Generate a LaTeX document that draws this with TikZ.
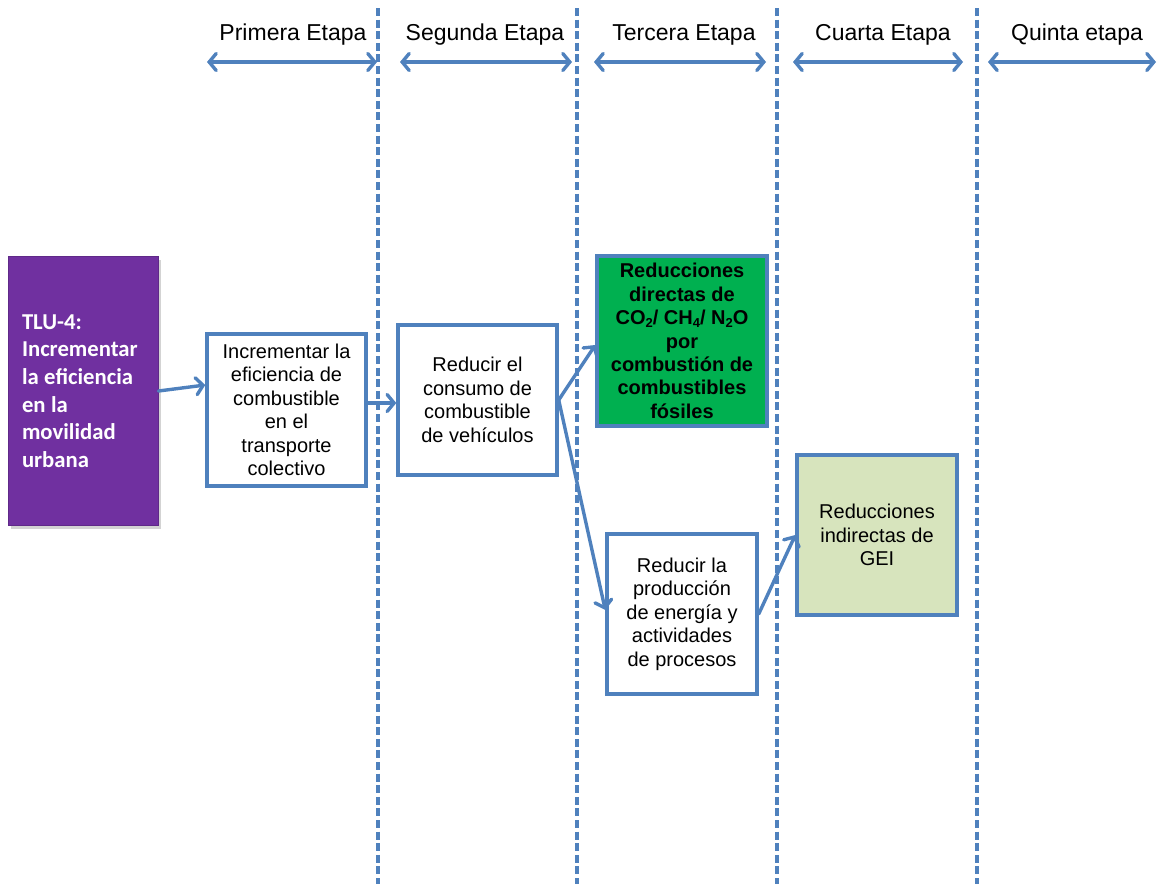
\documentclass[tikz,border=0pt]{standalone}
\usepackage{fontspec}
\setmainfont{Liberation Sans}
\newfontfamily\calib{Carlito}
\usetikzlibrary{arrows.meta,shadows}
\definecolor{ln}{HTML}{4F81BD}
\definecolor{purp}{HTML}{7030A0}
\definecolor{grn}{HTML}{00B050}
\definecolor{lgrn}{HTML}{D7E4BD}
% chemical subscript in the current text font
\newcommand{\chemsub}[1]{\raisebox{-0.28ex}{\fontsize{13}{13}\selectfont #1}}
% narrower interword space for the title box
\newcommand{\tightspace}{\spaceskip=0.24em\relax}
\tikzset{
  stagesep/.style={ln, line width=3.4pt, dash pattern=on 8pt off 3.6pt},
  stagearrow/.style={ln, line width=3.4pt, line cap=round,
    {Straight Barb[length=7pt,width=17pt,line cap=round]}-{Straight Barb[length=7pt,width=17pt,line cap=round]}},
  stagelabel/.style={font=\fontsize{23}{27}\selectfont, inner sep=0pt},
  flow/.style={ln, line width=3.4pt, line cap=round,
    -{Straight Barb[length=7pt,width=17pt,line cap=round]}},
  box/.style={draw=ln, line width=3.4pt, fill=white, inner sep=0pt, align=center,
    font=\fontsize{20}{23.5}\selectfont},
}
\begin{document}
\begin{tikzpicture}[x=1pt,y=-1pt]
\useasboundingbox (0,0) rectangle (1159,884);

% stage separators
\foreach \xx/\nm in {378/s1,577/s2,777/s3,977/s4}{
  \coordinate (\nm t) at (\xx,8);
  \coordinate (\nm b) at (\xx,884);
  \draw[stagesep] (\nm t) -- (\nm b);
}

% stage headers
\foreach \xa/\xb/\xc/\lab/\nm in {207/377/293/Primera Etapa/e1,
                                 400/572/485/Segunda Etapa/e2,
                                 594/766/684/Tercera Etapa/e3,
                                 793/963/883/Cuarta Etapa/e4,
                                 988/1156/1077/Quinta etapa/e5}{
  \node[stagelabel] (\nm) at (\xc,35) {\lab};
  \coordinate (\nm l) at (\xa,62);
  \coordinate (\nm r) at (\xb,62);
  \draw[stagearrow] (\nm l) -- (\nm r);
}

% boxes
\node[draw=purp!85!black, line width=1pt, fill=purp, text=white,
      minimum width=150pt, minimum height=269pt, text width=122pt,
      inner xsep=14pt, inner ysep=0pt, align=left,
      font=\calib\bfseries\fontsize{22.7}{27.7}\selectfont,
      drop shadow={shadow xshift=3pt, shadow yshift=-3pt, opacity=0.35}]
  (p) at (83,391) {\tightspace TLU-4:\\Incrementar\\la eficiencia\\en la\\movilidad\\urbana};

\node[box, minimum width=159pt, minimum height=152pt] (b1) at (286.5,410)
  {Incrementar la\\eficiencia de\\combustible\\en el\\transporte\\colectivo};

\node[box, minimum width=159pt, minimum height=150pt] (b2) at (477.5,400)
  {Reducir el\\consumo de\\combustible\\de vehículos};

\node[box, fill=grn, minimum width=170pt, minimum height=170pt,
      font=\bfseries\fontsize{20}{23.4}\selectfont] (g) at (682,341)
  {Reducciones\\directas de\\CO\chemsub{2}/ CH\chemsub{4}/ N\chemsub{2}O\\por\\combustión de\\combustibles\\fósiles};

\node[box, minimum width=150pt, minimum height=160pt] (b4) at (682,614)
  {Reducir la\\producción\\de energía y\\actividades\\de procesos};

\node[box, fill=lgrn, minimum width=160pt, minimum height=160pt] (lg) at (877,535)
  {Reducciones\\indirectas de\\GEI};

% connectors
\draw[flow] (p.east) -- ([yshift=25pt]b1.west);
\draw[flow] ([yshift=7pt]b1.east) -- ([yshift=7pt]b1.east -| b2.west);
\draw[flow] (b2.east) -- ([yshift=-4pt]g.west);
\draw[flow] (b2.east) -- ([yshift=4pt]b4.west);
\draw[flow] (b4.east) -- (lg.west);
\end{tikzpicture}
\end{document}
